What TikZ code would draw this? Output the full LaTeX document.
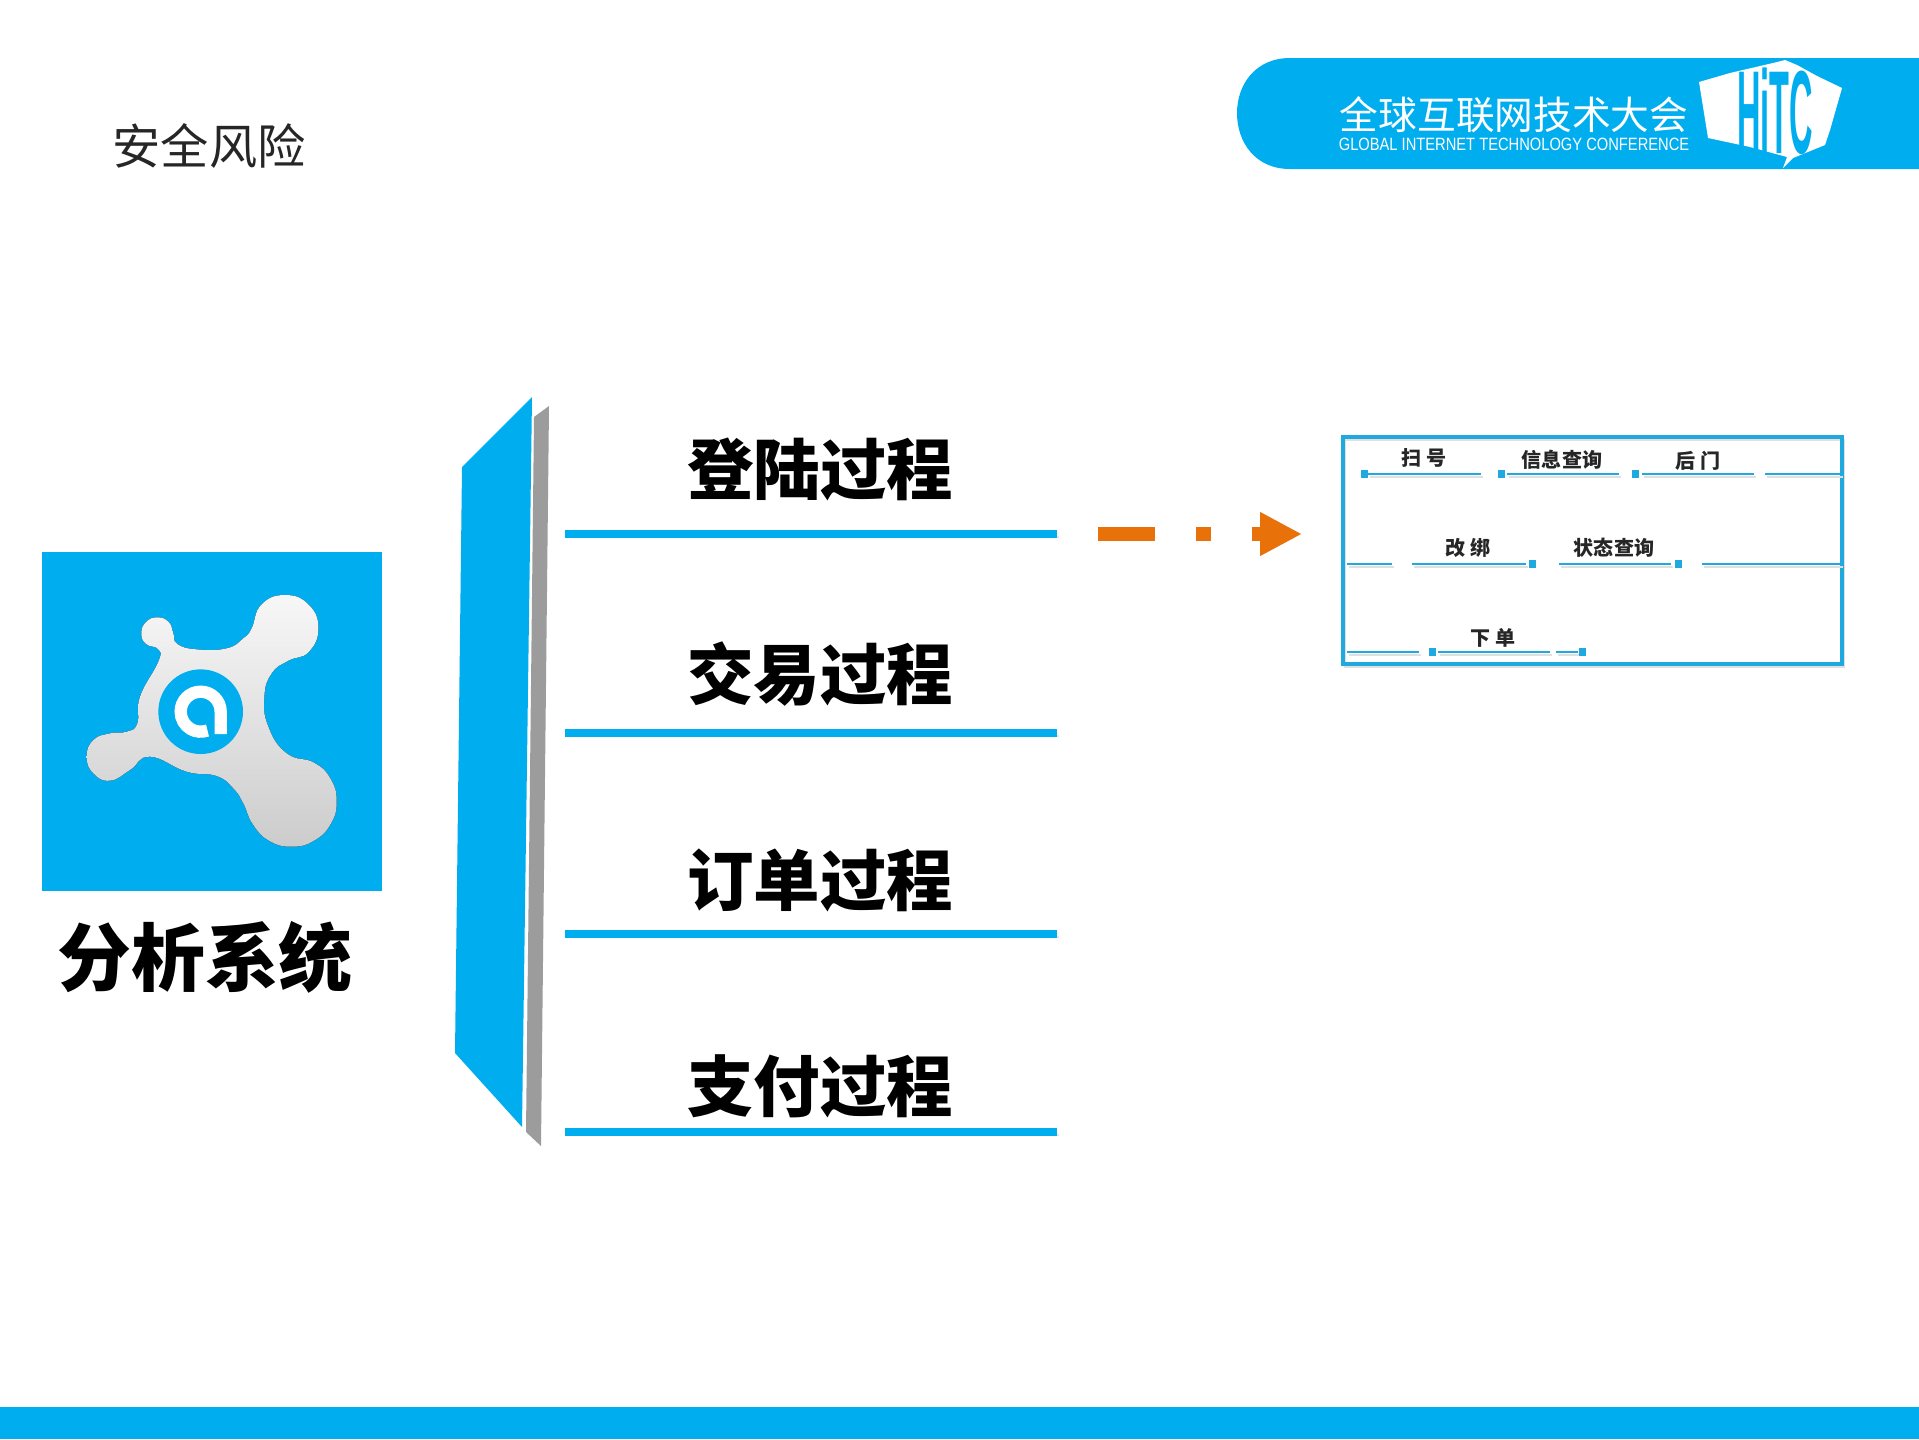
\documentclass[tikz,border=0pt]{standalone}
\usepackage{fontspec}
\setmainfont{Liberation Sans}
\newfontfamily\cjk{Noto Sans CJK SC}
\usetikzlibrary{arrows.meta}
\definecolor{hitcblue}{HTML}{00AEEF}
\definecolor{boxblue}{HTML}{1FA9DF}
\definecolor{panelgrey}{HTML}{9C9C9C}
\definecolor{dashorange}{HTML}{E8710A}
\tikzset{
  softshadow/.style={preaction={draw=black!#1,transform canvas={xshift=0.6pt,yshift=-0.9pt}}},
  stagelabel/.style={font=\cjk\bfseries\fontsize{18.9pt}{20pt}\selectfont,text=black,inner sep=0pt},
  stageline/.style={line width=2.27pt,draw=hitcblue,softshadow=10},
  stepdot/.style={draw=none,fill=boxblue,minimum size=2pt,inner sep=0pt},
  stepline/.style={line width=0.4pt,draw=boxblue,softshadow=12},
  steplabel/.style={font=\cjk\bfseries\fontsize{5.7pt}{6pt}\selectfont,text=black!85,inner sep=0pt},
}
\begin{document}
\begin{tikzpicture}[x=0.01cm,y=-0.01cm]
    \useasboundingbox (0,0) rectangle (1919,1439);
    \fill[white] (0,0) rectangle (1919,1439);
    \fill[hitcblue] (0,1407) rectangle (1919,1439);
    \node[font=\cjk\fontsize{13.7pt}{15pt}\selectfont,text=black!85,inner sep=0pt] (title) at (209,146) {安全风险};

    % banner top right
    \fill[hitcblue] (1919,58) -- (1290,58) .. controls (1255,58) and (1237,85) .. (1237,113)
      .. controls (1237,142) and (1255,169) .. (1290,169) -- (1919,169) -- cycle;
    \node[font=\cjk\fontsize{11pt}{12pt}\selectfont,text=white,inner sep=0pt] (bannercn) at (1514,115) {全球互联网技术大会};
    \node[text=white,inner sep=0pt] (banneren) at (1514,144) {\scalebox{0.95}[1.15]{\fontsize{4.4pt}{5pt}\selectfont GLOBAL INTERNET TECHNOLOGY CONFERENCE}};
    \fill[white] (1699,82) -- (1730,73) -- (1773,63) -- (1785,60) -- (1797,65) -- (1817,76) -- (1842,88)
      -- (1830,130) -- (1825,145) -- (1793,158) -- (1783,168) -- (1787,157) -- (1750,147) -- (1708,138) -- cycle;
    \node[text=hitcblue,inner sep=0pt] (hitc) at (1775,111) {\scalebox{0.66}[2.4]{\bfseries\fontsize{14pt}{15pt}\selectfont HiTC}};

    % logo square
    \fill[hitcblue] (42,552) rectangle (382,891);
    \begin{scope}[shift={(30,540)},x=0.01cm/3,y=-0.01cm/3]
      \fill[top color=white!97!black,bottom color=black!20]
        plot[smooth cycle,tension=0.8] coordinates {(665,265) (694,194) (765,165) (836,194)
        (865,265) (836,336) (775,362) (725,400) (703,470) (715,560) (770,640) (852,668)
        (902,717) (920,785) (902,852) (852,902) (785,920) (717,902) (668,852) (640,790)
        (610,745) (560,708) (470,695) (360,650) (300,690) (240,722) (190,700) (170,650)
        (190,600) (240,580) (290,575) (322,550) (330,470) (385,365) (385,328) (348,312)
        (334,280) (348,246) (382,232) (416,246) (430,280) (442,312) (500,328) (590,325) (640,295)};
      \fill[hitcblue] (512,515) circle (127);
      \draw[white,line width=3.5pt] (572,582) -- (572,515)
        arc[start angle=0,end angle=-290,radius=60];
    \end{scope}
    \node[font=\cjk\bfseries\fontsize{21pt}{23pt}\selectfont,text=black,inner sep=0pt] (system) at (205,957) {分析系统};

    % slanted panel
    \fill[hitcblue] (462,467) -- (532,397) -- (522,1127) -- (455,1053) -- cycle;
    \fill[panelgrey] (534,417) -- (549,406) -- (541,1146) -- (526,1132) -- cycle;

    % the four stages
    \foreach \i/\y/\ly/\name in {1/469/534/登陆过程,2/674/733/交易过程,3/880/934/订单过程,4/1086/1132/支付过程}{
      \node[stagelabel] (stage\i) at (820,\y) {\name};
      \coordinate (linestart\i) at (565,\ly);
      \coordinate (lineend\i) at (1057,\ly);
      \draw[stageline] (linestart\i) -- (lineend\i);
    }

    % orange arrow
    \coordinate (arrowstart) at (1098,534);
    \coordinate (arrowend) at (1302,534);
    \draw[line width=3.97pt,draw=dashorange,dash pattern=on 16.2pt off 11.6pt on 4.25pt off 11.6pt on 5.7pt off 11.3pt,
      -{Triangle[length=11.9pt,width=11.6pt]}] (arrowstart) -- (arrowend);

    % steps box
    \draw[line width=1.13pt,draw=boxblue,softshadow=12] (1343,437) rectangle (1842,664);
    \foreach \x/\a/\b in {1364/1368/1481,1501/1507/1619,1635/1642/1754}{
      \node[stepdot] (dot\x) at (\x,474) {};
      \coordinate (a\x) at (\a,474);
      \coordinate (b\x) at (\b,474);
      \draw[stepline] (a\x) -- (b\x);
    }
    \coordinate (a1) at (1765,474);
    \coordinate (b1) at (1841,474);
    \draw[stepline] (a1) -- (b1);
    \foreach \a/\b in {1347/1392,1412/1526,1559/1671,1702/1841}{
      \coordinate (a\a) at (\a,564);
      \coordinate (b\b) at (\b,564);
      \draw[stepline] (a\a) -- (b\b);
    }
    \node[stepdot] (dot1532) at (1532,564) {};
    \node[stepdot] (dot1678) at (1678,564) {};
    \foreach \a/\b in {1347/1419,1438/1550,1556/1578}{
      \coordinate (c\a) at (\a,652);
      \coordinate (d\b) at (\b,652);
      \draw[stepline] (c\a) -- (d\b);
    }
    \node[stepdot] (dot1432) at (1432,652) {};
    \node[stepdot] (dot1582) at (1582,652) {};
    \node[steplabel] (scan) at (1424,458) {扫 号};
    \node[steplabel] (info) at (1562,460) {信息查询};
    \node[steplabel] (door) at (1698,461) {后 门};
    \node[steplabel] (bind) at (1468,548) {改 绑};
    \node[steplabel] (state) at (1614,548) {状态查询};
    \node[steplabel] (order) at (1493,638) {下 单};
  \end{tikzpicture}
\end{document}
